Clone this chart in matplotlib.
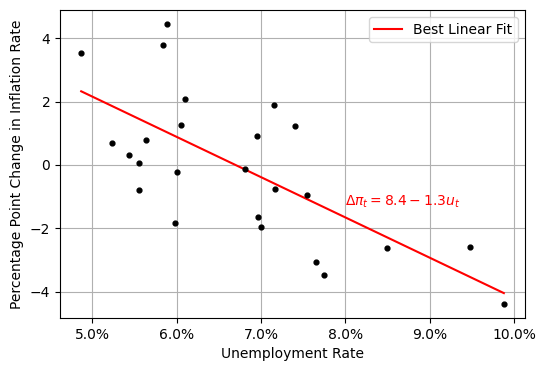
import numpy as np
import matplotlib
matplotlib.use("Agg")
import matplotlib.pyplot as plt
from matplotlib.ticker import FuncFormatter

# Unemployment rate (%) and percentage point change in inflation
unemployment = [4.87, 5.89, 5.84, 6.10, 6.05, 5.24, 5.44, 5.55, 5.64, 6.95,
                7.15, 7.40, 6.81, 6.00, 5.55, 5.98, 7.17, 6.97, 7.00, 7.55,
                7.65, 7.75, 8.50, 9.48, 9.88]
infl_change = [3.52, 4.45, 3.80, 2.07, 1.25, 0.69, 0.31, 0.05, 0.78, 0.91,
               1.89, 1.23, -0.12, -0.23, -0.80, -1.82, -0.77, -1.63, -1.95, -0.96,
               -3.06, -3.47, -2.61, -2.58, -4.39]

# Best linear fit coefficients
fit_intercept = 8.52
fit_slope = -1.272

x = np.array(unemployment)
y = np.array(infl_change)
xs = np.array([x.min(), x.max()])

fig, ax = plt.subplots(figsize=(5.46, 3.71), dpi=100)
fig.subplots_adjust(left=0.110, right=0.9615, top=0.973, bottom=0.143)

ax.scatter(x, y, s=12, color="black", zorder=3)
ax.plot(xs, fit_intercept + fit_slope * xs, color="red", label="Best Linear Fit", zorder=2)
ax.text(8.0, -1.3, r"$\Delta\pi_t = 8.4 - 1.3u_t$", color="red", fontsize=10)

ax.xaxis.set_major_formatter(FuncFormatter(lambda v, p: f"{v:.1f}%"))
ax.set_xlabel("Unemployment Rate")
ax.set_ylabel("Percentage Point Change in Inflation Rate")
ax.grid(True, color="#b0b0b0")
ax.set_axisbelow(True)
ax.legend(loc="upper right")

fig.savefig("out.png", dpi=100)
